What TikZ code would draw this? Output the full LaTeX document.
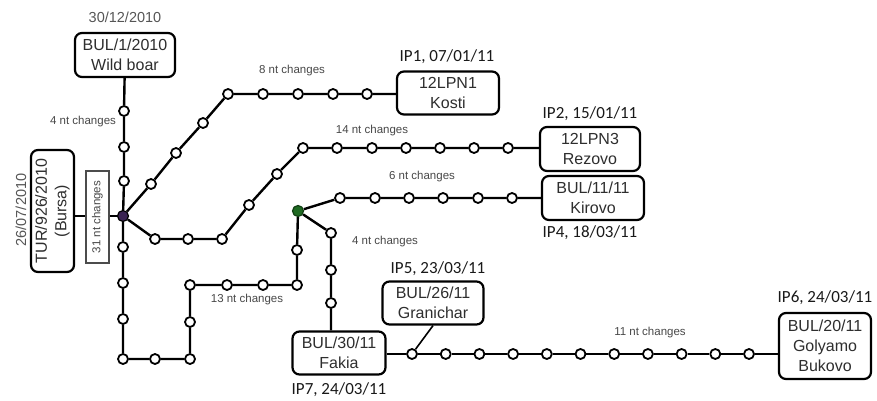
\documentclass[tikz,border=0pt]{standalone}
\usepackage{fontspec}
\setmainfont{Liberation Sans}
\newfontfamily\ipfont{Carlito}
\usepackage{tikz}
\usetikzlibrary{positioning, calc}

\definecolor{boxtext}{HTML}{2E2E2E}
\definecolor{datetext}{HTML}{555555}
\definecolor{hubpurple}{HTML}{3A2352}
\definecolor{hubgreen}{HTML}{1F6A22}

\begin{document}
\begin{tikzpicture}[
  x=1pt, y=-1pt,
  isolate/.style={draw, line width=2.2pt, rounded corners=7pt, fill=white, align=center,
    inner sep=2pt, text=boxtext, font=\fontsize{16}{19.5}\selectfont},
  dot/.style={circle, draw, line width=1.8pt, fill=white, inner sep=0pt, minimum size=10pt},
  hub/.style={circle, draw, line width=1.2pt, inner sep=0pt, minimum size=11pt},
  link/.style={line width=2.4pt},
  thinlink/.style={line width=1.6pt},
  datelabel/.style={text=datetext, font=\fontsize{14.5}{16}\selectfont},
  iplabel/.style={text=black!90, font=\ipfont\fontsize{17}{19}\selectfont},
  ntlabel/.style={text=black!72, font=\fontsize{11.5}{13}\selectfont, inner sep=1pt}
]
\useasboundingbox (0,0) rectangle (877,401);

% isolates
\node[isolate, minimum width=100pt, minimum height=44pt] (wild) at (125,55) {BUL/1/2010\\Wild boar};
\node[isolate, rotate=90, minimum width=122pt, minimum height=43pt] (bursa) at (52.5,211) {TUR/926/2010\\(Bursa)};
\node[isolate, minimum width=102pt, minimum height=43pt] (kosti) at (448,93) {12LPN1\\Kosti};
\node[isolate, minimum width=100pt, minimum height=44pt] (rezovo) at (590,149) {12LPN3\\Rezovo};
\node[isolate, minimum width=102pt, minimum height=44pt] (kirovo) at (593,198) {BUL/11/11\\Kirovo};
\node[isolate, minimum width=93pt, minimum height=43pt] (fakia) at (339,353) {BUL/30/11\\Fakia};
\node[isolate, minimum width=101pt, minimum height=43pt] (granichar) at (433,303) {BUL/26/11\\Granichar};
\node[isolate, minimum width=92pt, minimum height=66pt, font=\fontsize{16}{20}\selectfont] (golyamo) at (825,346) {BUL/20/11\\Golyamo\\Bukovo};

% dates
\node[datelabel] (dwild) at (125,17) {30/12/2010};
\node[datelabel, rotate=90] (dbursa) at (21,210) {26/07/2010};
\node[iplabel] (ip1) at (447,57) {IP1, 07/01/11};
\node[iplabel] (ip2) at (590,114) {IP2, 15/01/11};
\node[iplabel] (ip4) at (590,233) {IP4, 18/03/11};
\node[iplabel] (ip5) at (438,269) {IP5, 23/03/11};
\node[iplabel] (ip6) at (825,298) {IP6, 24/03/11};
\node[iplabel] (ip7) at (339,390) {IP7, 24/03/11};

% ancestral nodes
\node[hub, fill=hubpurple] (hubA) at (123,216) {};
\node[hub, fill=hubgreen, draw=hubgreen!60!black] (hubB) at (298,211) {};

% intermediate mutations
\foreach \n/\x/\y in {w1/124/111, w2/124/147, w3/124/181,
    k1/151/184, k2/176/153, k3/203/123, k4/228/94, k5/263/94, k6/298/94, k7/333/94, k8/367/94,
    r1/155/239, r2/188/239, r3/222/239, r4/249/205, r5/277/174, r6/303/148,
    r7/337/148, r8/372/148, r9/406/148, r10/440/148, r11/474/148, r12/508/148,
    v1/340/198, v2/375/198, v3/409/198, v4/443/198, v5/478/198, v6/512/198,
    f1/331/233, f2/331/270, f3/331/303,
    s1/123/247, s2/123/283, s3/123/319, s4/123/359, s5/155/359, s6/190/359,
    s7/190/322, s8/190/285, s9/227/285, s10/263/285, s11/297/285, s12/297/250}
  \node[dot] (\n) at (\x,\y) {};
\foreach \i in {1,...,11}
  \node[dot] (g\i) at ({412+(\i-1)*33.7},354) {};

% gap box
\node[draw=black!70, thinlink, fill=white, rotate=90, minimum width=92pt, minimum height=23pt,
  ntlabel, inner sep=1pt] (gap31) at (97.5,217) {31 nt changes};

% branches
\draw[link] (wild) -- (w1) -- (w2) -- (w3) -- (hubA);
\draw[link] (bursa.south |- hubA) -- (gap31.north |- hubA);
\draw[link] (gap31.south |- hubA) -- (hubA);
\draw[link] (hubA) -- (k1) -- (k2) -- (k3) -- (k4) -- (k5) -- (k6) -- (k7) -- (k8) -- (kosti.west |- k8);
\draw[link] (hubA) -- (r1) -- (r2) -- (r3) -- (r4) -- (r5) -- (r6) -- (r7) -- (r8) -- (r9)
  -- (r10) -- (r11) -- (r12) -- (rezovo.west |- r12);
\draw[link] (hubA) -- (s1) -- (s2) -- (s3) -- (s4) -- (s5) -- (s6) -- (s7) -- (s8) -- (s9)
  -- (s10) -- (s11) -- (s12) -- (hubB);
\draw[link] (hubB) -- (v1) -- (v2) -- (v3) -- (v4) -- (v5) -- (v6) -- (kirovo.west |- v6);
\draw[link] (hubB) -- (f1) -- (f2) -- (f3) -- (f3 |- fakia.north);
\draw[link] (fakia.east |- g1) -- (g1);
\foreach \i [count=\j from 2] in {1,...,10}
  \draw[link] (g\i) -- (g\j);
\draw[link] (g11) -- (g11 -| golyamo.west);
\draw[thinlink] (granichar.south) -- (g1);

% mutation counts
\node[ntlabel] (nt4a) at (83,122) {4 nt changes};
\node[ntlabel] (nt8) at (292,71) {8 nt changes};
\node[ntlabel] (nt14) at (372,131) {14 nt changes};
\node[ntlabel] (nt6) at (422,177) {6 nt changes};
\node[ntlabel] (nt4b) at (385,242) {4 nt changes};
\node[ntlabel] (nt13) at (247,300) {13 nt changes};
\node[ntlabel] (nt11) at (650,333) {11 nt changes};
\end{tikzpicture}
\end{document}
